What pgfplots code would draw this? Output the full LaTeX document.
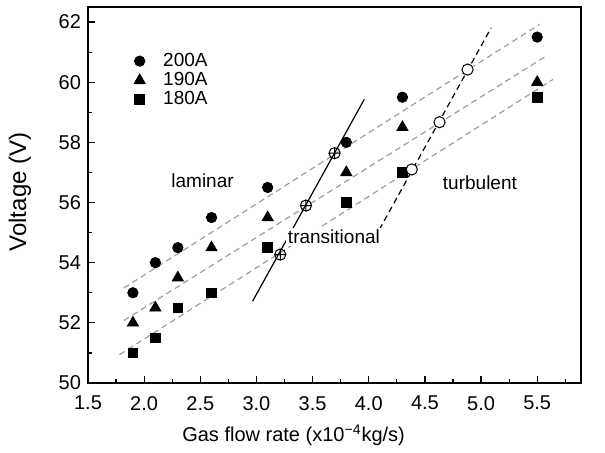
\documentclass[border=0pt]{standalone}
\usepackage{pgfplots}
\pgfplotsset{compat=1.18}
\usepackage{fontspec}
\setmainfont{Liberation Sans}
\begin{document}
\begin{tikzpicture}
\begin{axis}[
  scale only axis,
  width=246.5pt, height=188pt,
  xmin=1.5, xmax=5.89, ymin=50, ymax=62.5,
  xtick={1.5,2.0,...,5.5},
  minor xtick={1.75,2.25,...,5.75},
  ytick={50,52,...,62},
  minor ytick={51,53,...,61},
  xticklabel style={yshift=-3pt, /pgf/number format/fixed, /pgf/number format/fixed zerofill, /pgf/number format/precision=1},
  /pgf/number format/assume math mode=true,
  tick align=inside,
  xtick pos=bottom, ytick pos=left,
  major tick length=3.5pt, minor tick length=2.2pt,
  every tick/.style={black, line width=0.6pt},
  axis line style={line width=0.8pt},
  xlabel={Gas flow rate (x10\textsuperscript{\char"2212 4}kg/s)},
  ylabel={Voltage (V)},
  xlabel style={font=\fontsize{10}{12}\selectfont, at={(axis description cs:0.417,-0.138)}, anchor=center},
  ylabel style={font=\fontsize{12}{14}\selectfont, at={(axis description cs:-0.138,0.508)}, anchor=center},
  tick label style={font=\fontsize{10}{12}\selectfont},
  legend style={draw=none, fill=none, at={(axis cs:1.854,61.25)}, anchor=north west,
    font=\fontsize{9.5}{11}\selectfont, row sep=-2.5pt, column sep=7pt},
  legend cell align=left,
  clip=false,
]
\coordinate (bl) at (rel axis cs:0,0);
\coordinate (tr) at (rel axis cs:1,1);
% gray dashed fit lines
\addplot[gray!75, dash pattern=on 3pt off 2pt, line width=0.6pt, forget plot] coordinates {(1.82,53.16) (5.52,61.92)};
\addplot[gray!75, dash pattern=on 3pt off 2pt, line width=0.6pt, forget plot] coordinates {(1.82,52.08) (5.58,60.87)};
\addplot[gray!75, dash pattern=on 3pt off 2pt, line width=0.6pt, forget plot] coordinates {(1.78,50.94) (5.64,60.09)};
% transition lines
\addplot[black, line width=0.6pt, forget plot] coordinates {(2.966,52.72) (3.96,59.43)};
\addplot[black, line width=0.6pt, dash pattern=on 3pt off 2pt, forget plot] coordinates {(4.094,55.10) (5.09,61.81)};
% data
\addplot[only marks, mark=*, mark size=2.6pt, black] coordinates {
(1.9,53) (2.1,54) (2.3,54.5) (2.6,55.5) (3.1,56.5) (3.8,58) (4.3,59.5) (5.5,61.5)};
\addlegendentry{200A}
\addplot[only marks, mark=triangle*, mark size=3.2pt, black] coordinates {
(1.9,52) (2.1,52.5) (2.3,53.5) (2.6,54.5) (3.1,55.5) (3.8,57) (4.3,58.5) (5.5,60)};
\addlegendentry{190A}
\addplot[only marks, mark=square*, mark size=2.4pt, black] coordinates {
(1.9,51) (2.1,51.5) (2.3,52.5) (2.6,53) (3.1,54.5) (3.8,56) (4.3,57) (5.5,59.5)};
\addlegendentry{180A}
% intersection markers
\addplot[only marks, mark=oplus, mark size=2.8pt, black, mark options={fill=white, line width=0.5pt}, forget plot] coordinates {
(3.212,54.27) (3.441,55.90) (3.696,57.64)};
\addplot[only marks, mark=*, mark size=2.8pt, black, mark options={fill=white, line width=0.5pt}, forget plot] coordinates {
(4.383,57.10) (4.63,58.67) (4.88,60.42)};
% labels
\node at (axis cs:2.52,56.71) {\fontsize{9.5}{11}\selectfont laminar};
\node at (axis cs:4.99,56.65) {\fontsize{9.5}{11}\selectfont turbulent};
\node[fill=white, inner sep=1pt] at (axis cs:3.69,54.86) {\fontsize{9.5}{11}\selectfont transitional};
\end{axis}
\pgfresetboundingbox
\path ([shift={(-44pt,-34.5pt)}]bl) rectangle ([shift={(12pt,3.5pt)}]tr);
\end{tikzpicture}
\end{document}
